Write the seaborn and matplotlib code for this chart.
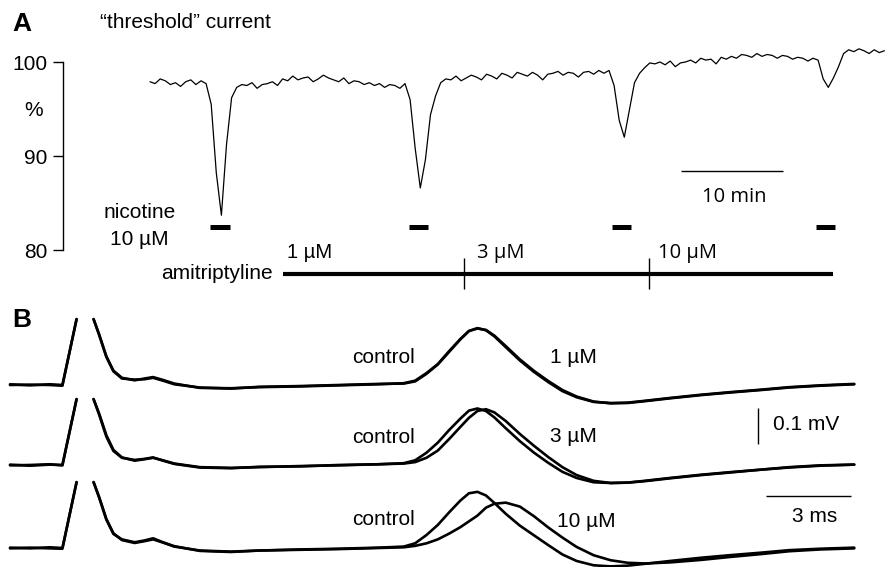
import numpy as np
import pandas as pd
import matplotlib
matplotlib.use("Agg")
import matplotlib.pyplot as plt
import seaborn as sns

# ---------------- Panel A data ----------------
a_t0_min = 0.0
a_step_min = 0.5
threshold_pct = [
    97.9, 97.7, 98.2, 98.0, 97.6, 97.8, 97.4, 97.9, 98.1, 97.6, 98.0, 97.7,
    95.5, 88.2, 83.7, 91.2, 96.2, 97.3,
    97.6, 97.5, 97.8, 97.2, 97.6, 97.7, 97.9, 97.5, 98.2, 98.0, 98.5, 98.1,
    98.3, 98.4, 97.9, 98.2, 98.6, 98.3, 98.1, 97.9, 98.3, 97.7, 98.0, 97.9,
    97.6, 97.8, 97.5, 97.7, 97.3, 97.6, 97.5, 97.2, 97.7,
    96.0, 90.8, 86.6, 89.6, 94.4, 96.4, 97.8,
    98.2, 98.1, 98.5, 98.0, 98.3, 98.6, 98.4, 98.1, 98.7, 98.5, 98.2, 98.8,
    98.6, 98.3, 98.9, 98.7, 98.5, 98.9, 98.6, 98.1, 98.7, 98.8, 99.0, 98.6,
    98.9, 98.8, 98.4, 98.9, 99.0, 98.7, 99.1, 98.8, 99.1,
    97.5, 93.8, 92.0, 94.9, 97.8, 98.8,
    99.4, 99.9, 99.8, 100.0, 99.7, 100.1, 99.5, 99.9, 100.0, 100.2, 99.9, 100.4,
    100.2, 100.3, 99.8, 100.5, 100.3, 100.6, 100.4, 100.8, 100.7, 100.5, 100.9,
    100.6, 100.8, 100.7, 100.4, 100.7, 100.6, 100.3, 100.5, 100.4, 100.1, 100.4,
    100.2,
    98.2, 97.3, 98.3, 99.5, 100.9, 101.3,
    101.1, 101.4, 101.2, 100.9, 101.3, 101.0, 101.2,
]
a_yticks = [80, 90, 100]
nicotine_on_min = [5.9, 25.4, 45.3, 65.3]
nicotine_dur_min = 1.9
amit_labels = ["1 µM", "3 µM", "10 µM"]
amit_start_min = [13.0, 30.8, 48.9]
amit_end_min = 67.0
scale_a_min = 10

# ---------------- Panel B data ----------------
b_time_seg1 = [0.0, 0.7, 1.4, 1.85, 2.35]
b_time_seg2 = [2.95, 3.15, 3.4, 3.65, 3.95, 4.4, 4.75, 5.05, 5.4, 5.8,
               6.7, 7.8, 8.8, 10.2, 11.6, 13.0, 13.9, 14.3, 14.7, 15.1,
               15.5, 15.9, 16.2, 16.5, 16.8, 17.1, 17.5, 18.0, 18.5, 19.0,
               19.5, 20.0, 20.6, 21.2, 21.8, 22.4, 23.3, 24.4, 25.4, 26.5,
               27.5, 28.6, 29.8]
b_rows = ["1 µM", "3 µM", "10 µM"]

r1_control = [0.002, -0.001, 0.002, 0.000, 0.183,
              0.183, 0.140, 0.080, 0.040, 0.020, 0.013, 0.018, 0.022, 0.014, 0.004,
              -0.008, -0.009, -0.006, -0.004, -0.001, 0.002, 0.005, 0.012, 0.033, 0.058,
              0.094, 0.128, 0.150, 0.158, 0.152, 0.135, 0.105, 0.068, 0.036, 0.008,
              -0.017, -0.034, -0.047, -0.050, -0.050, -0.045, -0.037, -0.028, -0.021, -0.014,
              -0.007, -0.002, 0.002]
r1_drug = [0.000, 0.001, 0.000, -0.002, 0.183,
           0.183, 0.138, 0.078, 0.038, 0.018, 0.015, 0.016, 0.020, 0.012, 0.002,
           -0.007, -0.010, -0.005, -0.003, 0.000, 0.003, 0.004, 0.010, 0.031, 0.057,
           0.092, 0.127, 0.150, 0.157, 0.153, 0.137, 0.108, 0.071, 0.039, 0.011,
           -0.014, -0.032, -0.046, -0.051, -0.049, -0.044, -0.036, -0.027, -0.020, -0.013,
           -0.006, -0.001, 0.003]
r2_control = [0.001, -0.002, 0.001, 0.000, 0.183,
              0.183, 0.142, 0.083, 0.042, 0.021, 0.012, 0.016, 0.020, 0.013, 0.004,
              -0.006, -0.008, -0.006, -0.003, -0.001, 0.002, 0.005, 0.013, 0.034, 0.062,
              0.097, 0.129, 0.151, 0.157, 0.150, 0.132, 0.102, 0.066, 0.034, 0.006,
              -0.019, -0.036, -0.048, -0.050, -0.049, -0.044, -0.036, -0.027, -0.020, -0.013,
              -0.006, -0.001, 0.001]
r2_drug = [-0.001, 0.000, 0.002, -0.001, 0.183,
           0.183, 0.139, 0.079, 0.039, 0.020, 0.014, 0.017, 0.021, 0.012, 0.003,
           -0.007, -0.009, -0.005, -0.004, 0.000, 0.002, 0.004, 0.008, 0.020, 0.040,
           0.072, 0.106, 0.131, 0.150, 0.155, 0.146, 0.122, 0.086, 0.053, 0.022,
           -0.006, -0.028, -0.044, -0.050, -0.049, -0.045, -0.037, -0.028, -0.021, -0.013,
           -0.007, -0.002, 0.001]
r3_control = [0.001, -0.001, 0.002, 0.000, 0.183,
              0.183, 0.141, 0.081, 0.041, 0.022, 0.014, 0.019, 0.024, 0.015, 0.004,
              -0.007, -0.010, -0.007, -0.004, -0.002, 0.001, 0.004, 0.013, 0.036, 0.064,
              0.099, 0.132, 0.152, 0.156, 0.146, 0.125, 0.095, 0.062, 0.035, 0.008,
              -0.018, -0.036, -0.048, -0.051, -0.049, -0.044, -0.036, -0.027, -0.020, -0.013,
              -0.006, -0.002, 0.001]
r3_drug = [-0.001, 0.001, -0.001, -0.002, 0.183,
           0.183, 0.139, 0.079, 0.039, 0.024, 0.016, 0.021, 0.027, 0.016, 0.005,
           -0.008, -0.011, -0.007, -0.005, -0.003, 0.000, 0.002, 0.006, 0.013, 0.024,
           0.040, 0.058, 0.074, 0.090, 0.112, 0.123, 0.126, 0.115, 0.088, 0.057,
           0.029, 0.003, -0.020, -0.034, -0.041, -0.043, -0.040, -0.033, -0.025, -0.017,
           -0.009, -0.004, -0.001]
b_row_offset_mv = [0.0, -0.2222, -0.4528]
scale_b_mv = 0.1
scale_b_ms = 3

# ---------------- style ----------------
sns.set_theme(style="ticks")
plt.rcParams["font.family"] = ["Liberation Sans", "DejaVu Sans"]
plt.rcParams["text.color"] = "black"
plt.rcParams["axes.labelcolor"] = "black"
plt.rcParams["xtick.color"] = "black"
plt.rcParams["ytick.color"] = "black"
FS = 15
W, H = 886, 567

fig = plt.figure(figsize=(W / 100, H / 100), dpi=100)
fig.patch.set_facecolor("white")


def fx(px):
    return px / W


def fy(py):
    return 1 - py / H


# ---------------- Panel A ----------------
ax_a = fig.add_axes([fx(63), fy(295), (W - 63) / W, (295 - 30) / H])
ax_a.patch.set_visible(False)
t_a = a_t0_min + a_step_min * np.arange(len(threshold_pct))
sns.lineplot(x=t_a, y=threshold_pct, ax=ax_a, color="black", linewidth=0.9)
ax_a.set_xlim((63 - 150) / 10.2, (W - 150) / 10.2)
ax_a.set_ylim(80 - 45 / 9.4, 100 + 32 / 9.4)
ax_a.set_xlabel("")
ax_a.set_ylabel("")
for s in ["top", "right", "bottom"]:
    ax_a.spines[s].set_visible(False)
ax_a.spines["left"].set_bounds(80, 100)
ax_a.spines["left"].set_linewidth(1.0)
ax_a.spines["left"].set_color("black")
ax_a.set_xticks([])
ax_a.set_yticks(a_yticks)
ax_a.set_yticklabels([str(v) for v in a_yticks])
ax_a.tick_params(axis="y", length=7, width=1.0, labelsize=FS, pad=4,
                 direction="out", colors="black", labelcolor="black")

# nicotine bars
bar_y = 80 + 23 / 9.4
ax_a.hlines([bar_y] * len(nicotine_on_min), nicotine_on_min,
            [s + nicotine_dur_min for s in nicotine_on_min],
            color="black", linewidth=3.6, capstyle="butt")
ax_a.text(-0.98, 83.40, "nicotine", ha="center", va="baseline", fontsize=FS, color="black")
ax_a.text(-1.08, 80.53, "10 µM", ha="center", va="baseline", fontsize=FS, color="black")

# amitriptyline line
amit_y = 80 - 24 / 9.4
ax_a.hlines(amit_y, amit_start_min[0], amit_end_min, color="black",
            linewidth=3.0, clip_on=False)
ax_a.vlines(amit_start_min[1:], 80 - 39 / 9.4, 80 - 8 / 9.4, color="black",
            linewidth=1.0, clip_on=False)
ax_a.text(12.06, 76.91, "amitriptyline", ha="right", va="baseline", fontsize=FS, color="black")
amit_lbl_x = [13.43, 32.06, 49.8]
amit_fonts = ["Liberation Sans", "Open Sans", "Open Sans"]
for lbl, xx, fam in zip(amit_labels, amit_lbl_x, amit_fonts):
    ax_a.text(xx, 79.2, lbl, ha="left", va="baseline", fontsize=FS - 0.5,
              family=[fam, "DejaVu Sans"], color="black")

# 10 min scale bar
sb_x0 = (681 - 150) / 10.2
ax_a.hlines(80 + 79 / 9.4, sb_x0, sb_x0 + scale_a_min, color="black", linewidth=1.0)
ax_a.text(sb_x0 + scale_a_min / 2 + 0.2, 85.11, f"{scale_a_min} min", ha="center",
          va="baseline", fontsize=FS - 0.5, family=["Open Sans", "DejaVu Sans"], color="black")

fig.text(fx(12), fy(31), "A", fontsize=19, fontweight="bold", ha="left", va="baseline", color="black")
fig.text(fx(100), fy(28), "\u201cthreshold\u201d current", fontsize=FS, ha="left", va="baseline", color="black")
fig.text(fx(34), fy(116), "%", fontsize=FS, ha="center", va="baseline", color="black")

# ---------------- Panel B ----------------
ax_b = fig.add_axes([0, 0, 1, (H - 295) / H])
ax_b.patch.set_visible(False)
ax_b.set_axis_off()
ax_b.set_xlim(-10 / 28.33, (W - 10) / 28.33)
ax_b.set_ylim((385 - 567) / 360, (385 - 295) / 360)

traces = [(0, "control", r1_control), (0, "drug", r1_drug),
          (1, "control", r2_control), (1, "drug", r2_drug),
          (2, "control", r3_control), (2, "drug", r3_drug)]
n1 = len(b_time_seg1)
recs = []
for ri, cond, vals in traces:
    off = b_row_offset_mv[ri]
    for i, v in enumerate(vals):
        if i < n1:
            t, seg = b_time_seg1[i], 0
        else:
            t, seg = b_time_seg2[i - n1], 1
        recs.append({"t": t, "v": v + off, "unit": f"{ri}-{cond}-{seg}"})
df_b = pd.DataFrame(recs)
sns.lineplot(data=df_b, x="t", y="v", units="unit", estimator=None, sort=False,
             color="black", linewidth=1.9, ax=ax_b, legend=False)
ax_b.set_axis_off()

ctrl_y = [0.061, -0.161, -0.389]
drug_y = [0.061, -0.158, -0.394]
drug_x = [19.06, 19.06, 19.31]
for i, row in enumerate(b_rows):
    ax_b.text(13.2, ctrl_y[i], "control", ha="center", va="baseline", fontsize=FS, color="black")
    ax_b.text(drug_x[i], drug_y[i], row, ha="left", va="baseline", fontsize=FS, color="black")

# scale bars B
ax_b.vlines(26.40, -0.1639, -0.1639 + scale_b_mv, color="black", linewidth=1.0)
ax_b.text(26.93, -0.125, f"{scale_b_mv} mV", ha="left", va="baseline", fontsize=FS, color="black")
ax_b.hlines(-0.3083, 26.69, 26.69 + scale_b_ms, color="black", linewidth=1.0)
ax_b.text(28.41, -0.3806, f"{scale_b_ms} ms", ha="center", va="baseline", fontsize=FS, color="black")

fig.text(fx(12), fy(327), "B", fontsize=19, fontweight="bold", ha="left", va="baseline", color="black")

fig.savefig("out.png", dpi=100, facecolor="white")
